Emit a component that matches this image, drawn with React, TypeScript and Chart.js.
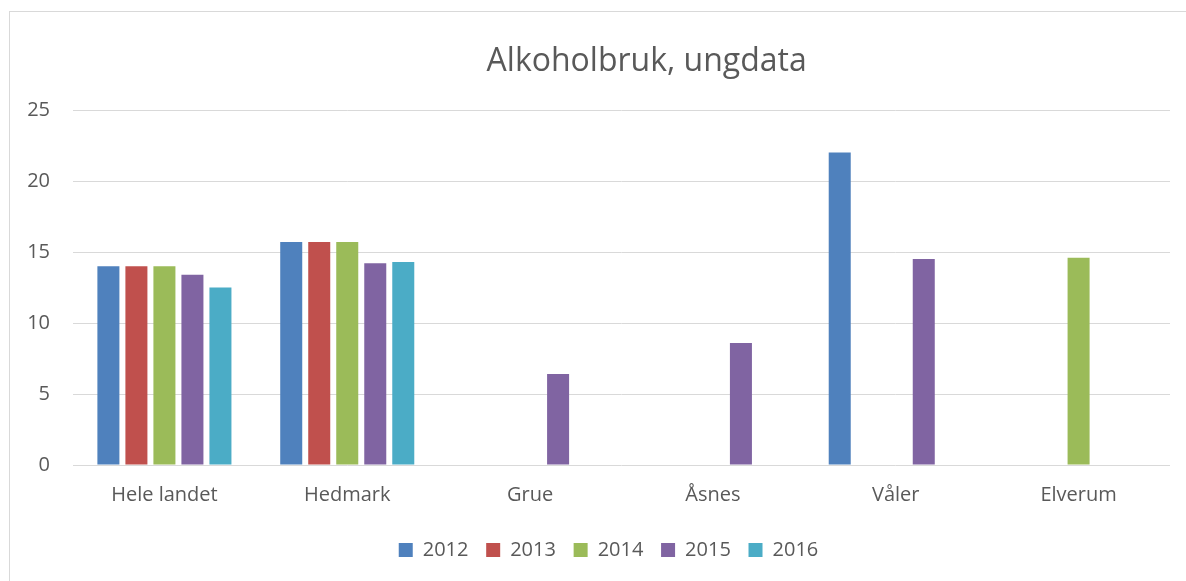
import React, { useEffect, useRef } from "react";
import { Chart, registerables } from "chart.js";

Chart.register(...registerables);

const categories = ["Hele landet", "Hedmark", "Grue", "Åsnes", "Våler", "Elverum"];
const years = ["2012", "2013", "2014", "2015", "2016"];
const values2012 = [14.0, 15.7, null, null, 22.0, null];
const values2013 = [14.0, 15.7, null, null, null, null];
const values2014 = [14.0, 15.7, null, null, null, 14.6];
const values2015 = [13.4, 14.2, 6.4, 8.6, 14.5, null];
const values2016 = [12.5, 14.3, null, null, null, null];
const seriesColors = ["#4F81BD", "#C0504D", "#9BBB59", "#8064A2", "#4BACC6"];
const yTicks = [0, 5, 10, 15, 20, 25];
const titleText = "Alkoholbruk, ungdata";

const FONT = "'Open Sans', 'Liberation Sans', sans-serif";
const TEXT = "#595959";
const GRID = "#d9d9d9";

export default function App() {
  const ref = useRef<HTMLCanvasElement | null>(null);

  useEffect(() => {
    if (!ref.current) return;
    const seriesValues = [values2012, values2013, values2014, values2015, values2016];
    const boxShift = {
      id: "boxShift",
      afterLayout(chart: any) {
        const tb = chart.titleBlock;
        if (tb) {
          const d = 636.7 - (tb.left + tb.right) / 2;
          tb.left += d;
          tb.right += d;
        }
        const lg = chart.legend;
        if (lg) {
          lg.left += 10;
          lg.right += 10;
        }
      },
    };
    const chart = new Chart(ref.current, {
      type: "bar",
      data: {
        labels: categories,
        datasets: years.map((y, i) => ({
          label: y,
          data: seriesValues[i],
          backgroundColor: seriesColors[i],
          borderWidth: 0,
          barPercentage: 0.786,
          categoryPercentage: 0.766,
        })),
      },
      options: {
        animation: false,
        responsive: true,
        maintainAspectRatio: false,
        layout: { padding: { left: 17, right: 16, top: 0, bottom: 11 } },
        plugins: {
          title: {
            display: true,
            text: titleText,
            color: TEXT,
            font: { family: FONT, size: 32, weight: "normal" },
            padding: { top: 31, bottom: 28.6 },
          },
          legend: {
            position: "bottom",
            labels: {
              boxWidth: 14,
              boxHeight: 14,
              padding: 17.7,
              color: TEXT,
              font: { family: FONT, size: 20 },
            },
          },
          tooltip: { enabled: false },
        },
        scales: {
          x: {
            grid: { display: false, drawTicks: false },
            border: { display: false },
            ticks: {
              color: TEXT,
              font: { family: FONT, size: 20 },
              padding: 18,
              maxRotation: 0,
              autoSkip: false,
            },
            afterFit(scale: any) {
              scale.height = 57.3;
            },
          },
          y: {
            min: 0,
            max: 25,
            afterBuildTicks(scale: any) {
              scale.ticks = yTicks.map((v) => ({ value: v }));
            },
            grid: { color: GRID, lineWidth: 1, drawTicks: false },
            border: { display: false },
            ticks: {
              color: TEXT,
              font: { family: FONT, size: 20 },
              padding: 23,
            },
            afterFit(scale: any) {
              scale.width = 46;
            },
          },
        },
      },
      plugins: [boxShift],
    });
    return () => chart.destroy();
  }, []);

  return (
    <div
      style={{
        position: "absolute",
        left: 9,
        top: 11,
        width: 1177,
        height: 570,
        borderTop: "1px solid #d9d9d9",
        borderLeft: "1px solid #d9d9d9",
        boxSizing: "border-box",
        background: "#fff",
      }}
    >
      <div style={{ position: "relative", width: 1176, height: 569 }}>
        <canvas ref={ref} />
      </div>
    </div>
  );
}
